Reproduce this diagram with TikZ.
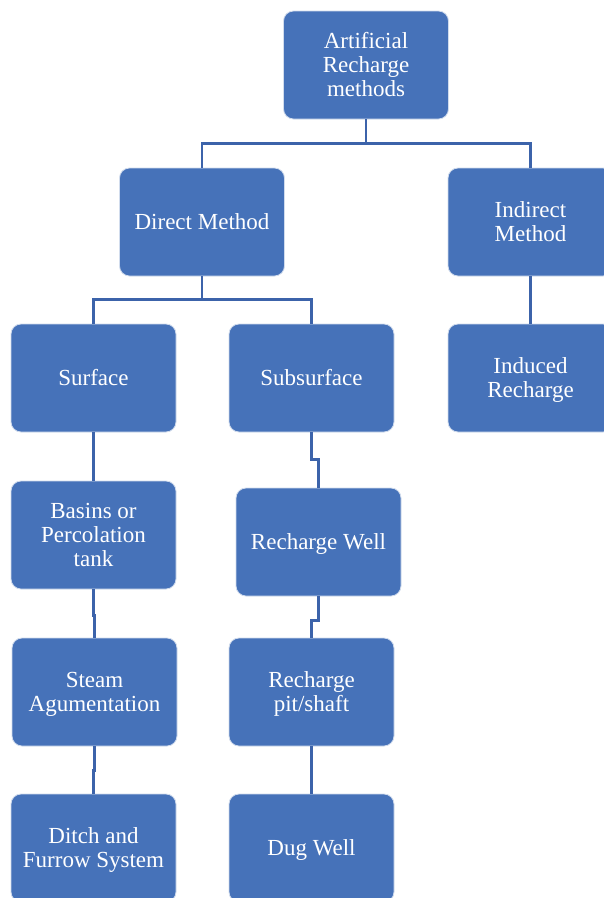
\documentclass[tikz,border=0pt]{standalone}
\usepackage{fontspec}
\setmainfont{Liberation Serif}
\definecolor{boxblue}{HTML}{4672B9}
\definecolor{linkblue}{HTML}{3C63AA}
% centred lines, set a little low in the box
\newcommand\boxlines[1]{\raisebox{-2.5pt}[\height][\depth]{\begin{tabular}{@{}c@{}}#1\end{tabular}}}
\begin{document}
\begin{tikzpicture}[x=1pt,y=-1pt,
  box/.style={rectangle, rounded corners=10pt, fill=boxblue, draw=white!75!boxblue, line width=0.8pt,
    minimum width=165pt, minimum height=108pt,
    text=white, font=\fontsize{23}{24}\selectfont, inner sep=0pt},
  link/.style={draw=linkblue, line width=2.4pt}]
\clip (0,0) rectangle (604,898);
\fill[white] (0,0) rectangle (604,898);

% tree of recharge methods
\node[box] (root)     at (366,65)    {\boxlines{Artificial\\Recharge\\methods}};
\node[box] (direct)   at (202,222)   {\boxlines{Direct Method}};
\node[box] (indirect) at (530.5,222) {\boxlines{Indirect\\Method}};
\node[box] (surface)  at (93.5,378)  {\boxlines{Surface}};
\node[box] (subsurf)  at (311.5,378) {\boxlines{Subsurface}};
\node[box] (induced)  at (530.5,378) {\boxlines{Induced\\Recharge}};
\node[box] (basins)   at (93.5,535)  {\boxlines{Basins or\\Percolation\\tank}};
\node[box] (rwell)    at (318.5,542) {\boxlines{Recharge Well}};
\node[box] (steam)    at (94.5,692)  {\boxlines{Steam\\Agumentation}};
\node[box] (pit)      at (311.5,692) {\boxlines{Recharge\\pit/shaft}};
\node[box] (ditch)    at (93.5,848)  {\boxlines{Ditch and\\Furrow System}};
\node[box] (dug)      at (311.5,848) {\boxlines{Dug Well}};

% connectors
\draw[link] (root.south) -- ++(0,24) -| (direct.north);
\draw[link] (root.south) -- ++(0,24) -| (indirect.north);
\draw[link] (direct.south) -- ++(0,23) -| (surface.north);
\draw[link] (direct.south) -- ++(0,23) -| (subsurf.north);
\draw[link] (indirect.south) -- (induced.north);
\draw[link] (surface.south) -- (basins.north);
\draw[link] (basins.south) -- ++(0,26) -| (steam.north);
\draw[link] (steam.south) -- ++(0,24) -| (ditch.north);
\draw[link] (subsurf.south) -- ++(0,27) -| (rwell.north);
\draw[link] (rwell.south) -- ++(0,24) -| (pit.north);
\draw[link] (pit.south) -- (dug.north);
\end{tikzpicture}
\end{document}
